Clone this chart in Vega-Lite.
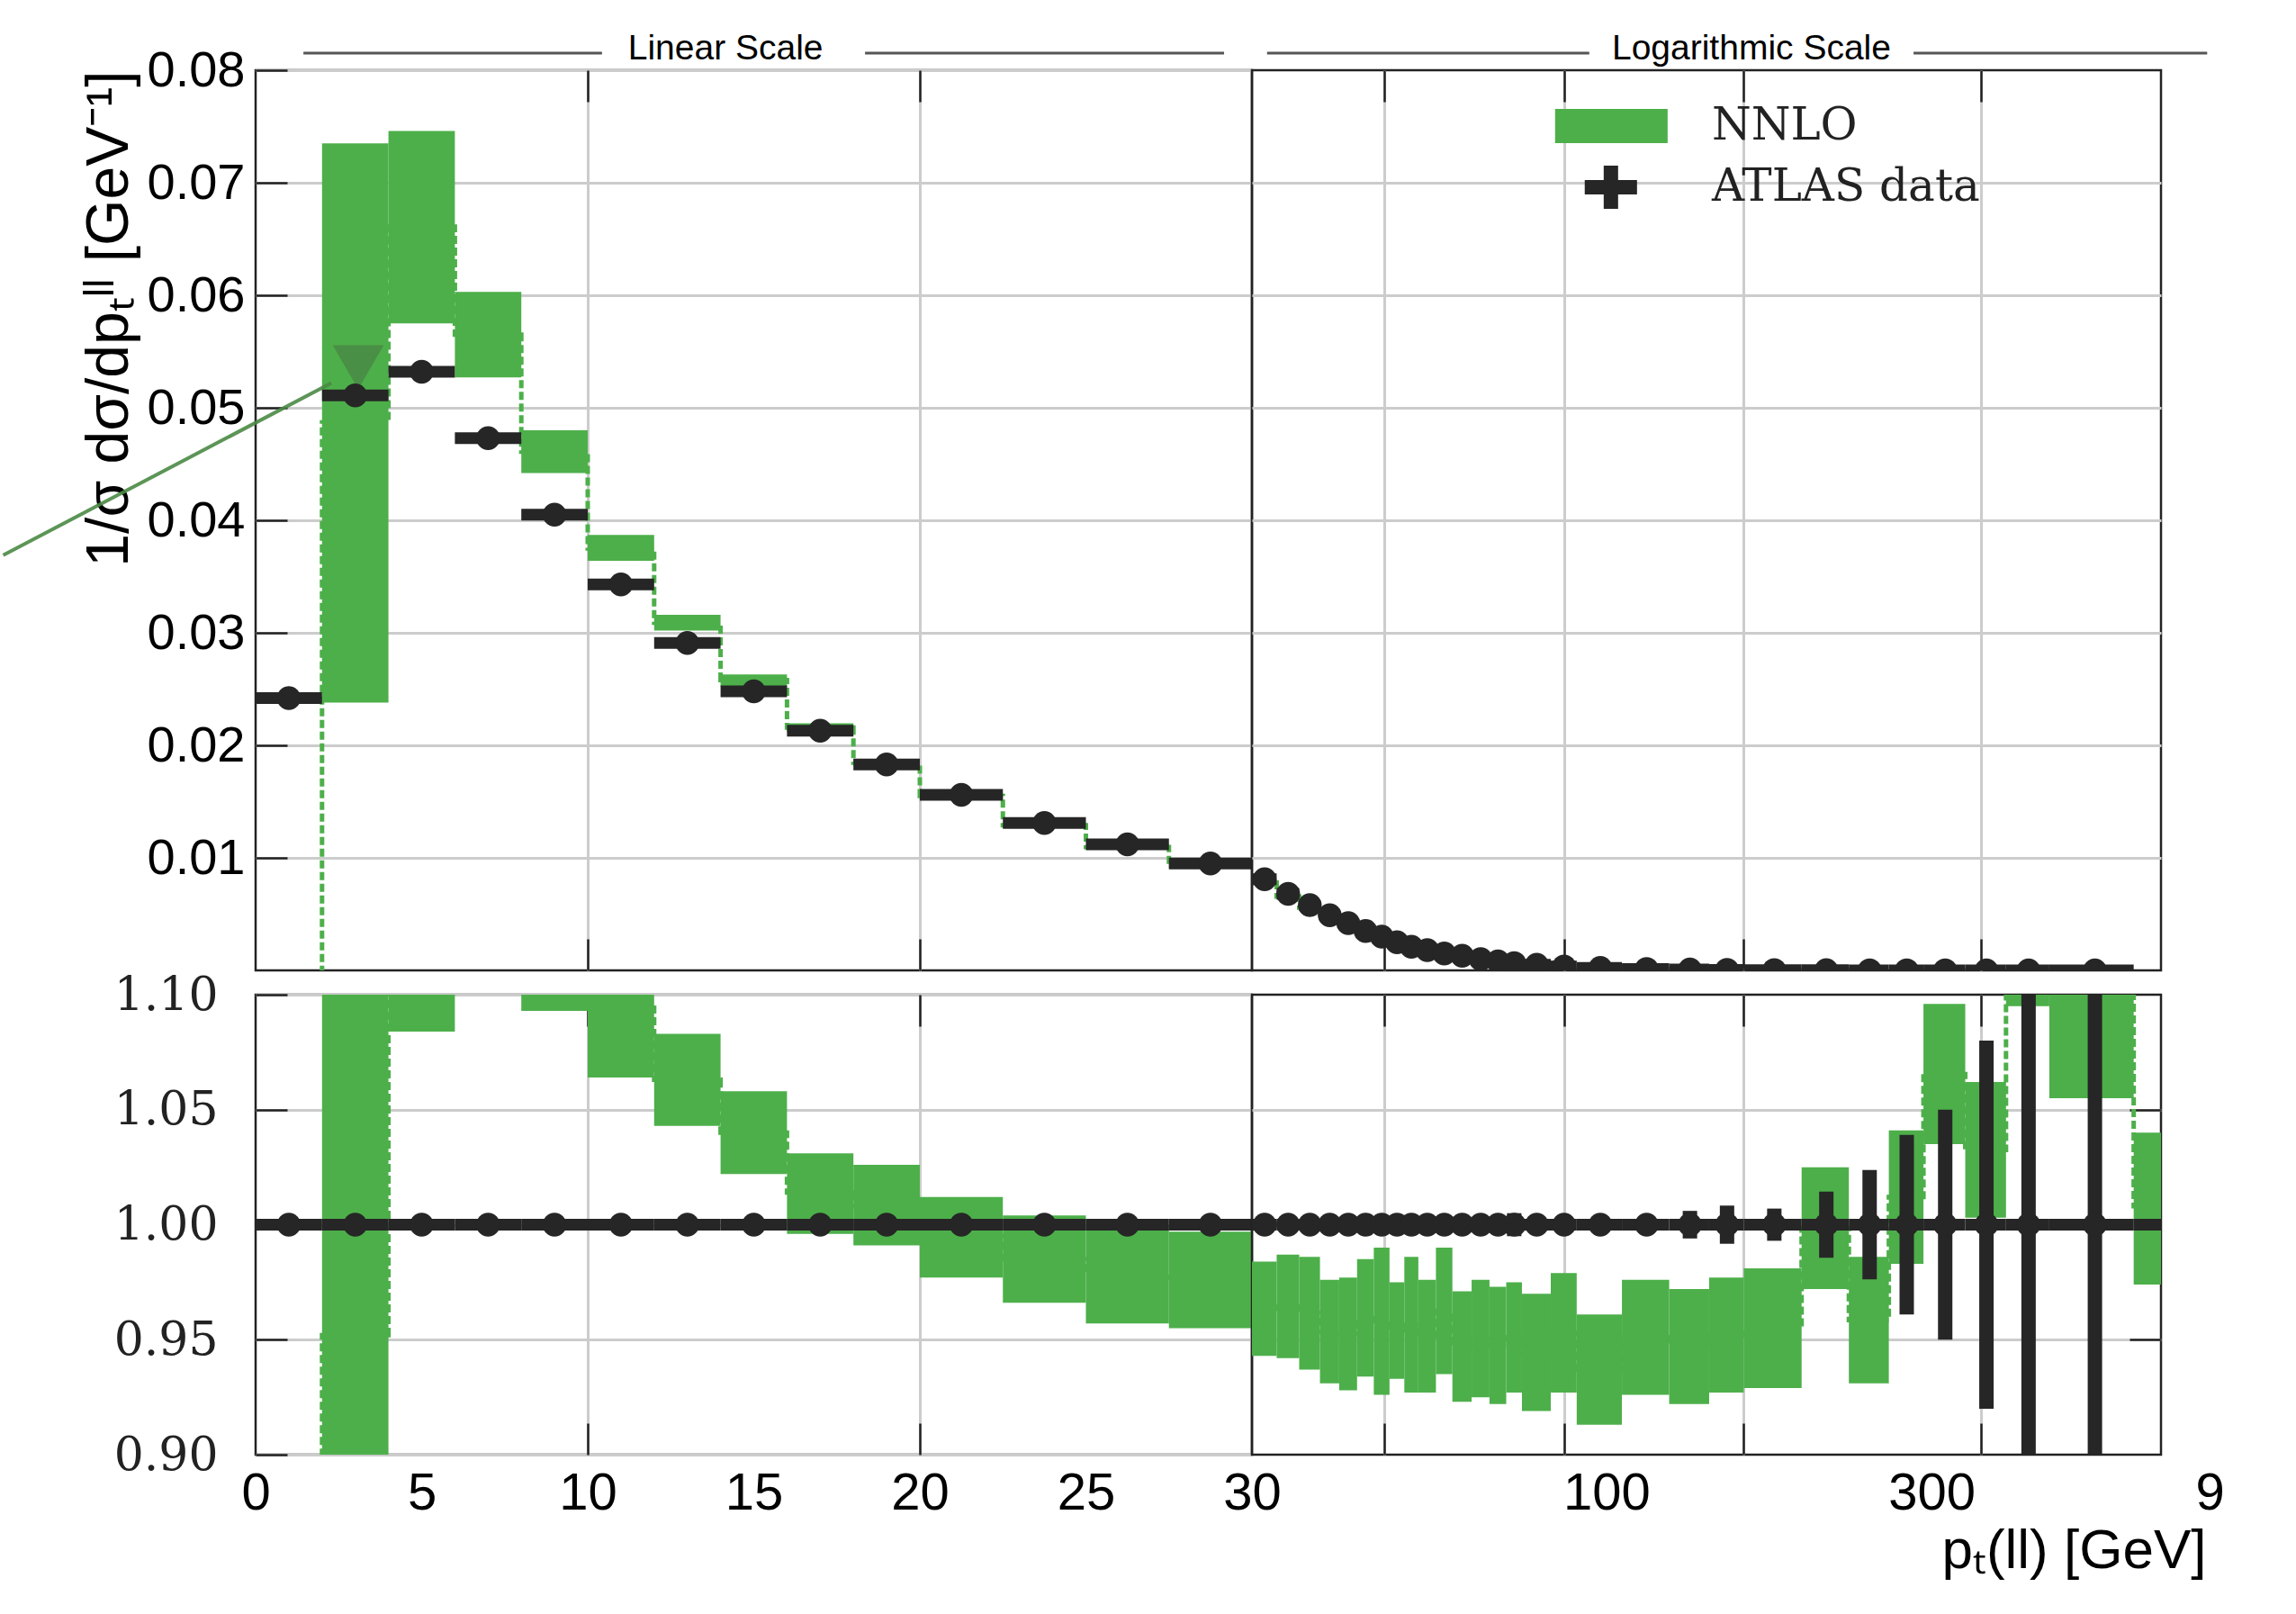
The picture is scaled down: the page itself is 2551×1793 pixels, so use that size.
{
  "$schema": "https://vega.github.io/schema/vega-lite/v6.json",
  "background": "white",
  "padding": {"left": 0, "top": 33, "right": 10, "bottom": 10},
  "config": {
    "font": "Liberation Sans",
    "view": {"stroke": "#222222", "strokeWidth": 2.5},
    "axis": {"domain": false, "gridColor": "#cccccc", "gridWidth": 3, "tickColor": "#222222", "tickWidth": 2.5, "labelFont": "Liberation Sans", "titleFont": "Liberation Sans", "titleFontWeight": "normal", "labelColor": "#000000", "titleColor": "#000000"}
  },
  "datasets": {
    "lin": [
      {"lo": 0, "hi": 2, "c": 1, "d": 0.0242, "tlo": null, "thi": null, "tmid": -0.01, "rlo": null, "rhi": null, "rmid": -0.4, "elo": 0.997, "ehi": 1.003},
      {"lo": 2, "hi": 4, "c": 3, "d": 0.0511, "tlo": 0.0238, "thi": 0.0735, "tmid": 0.0487, "rlo": 0.466, "rhi": 1.438, "rmid": 0.952, "elo": 0.997, "ehi": 1.003},
      {"lo": 4, "hi": 6, "c": 5, "d": 0.0532, "tlo": 0.0575, "thi": 0.0746, "tmid": 0.0661, "rlo": 1.084, "rhi": 1.402, "rmid": 1.243, "elo": 0.997, "ehi": 1.003},
      {"lo": 6, "hi": 8, "c": 7, "d": 0.0473, "tlo": 0.0527, "thi": 0.0603, "tmid": 0.0565, "rlo": 1.114, "rhi": 1.275, "rmid": 1.195, "elo": 0.997, "ehi": 1.003},
      {"lo": 8, "hi": 10, "c": 9, "d": 0.0405, "tlo": 0.0442, "thi": 0.048, "tmid": 0.0461, "rlo": 1.093, "rhi": 1.185, "rmid": 1.139, "elo": 0.997, "ehi": 1.003},
      {"lo": 10, "hi": 12, "c": 11, "d": 0.0343, "tlo": 0.0364, "thi": 0.0387, "tmid": 0.0375, "rlo": 1.064, "rhi": 1.128, "rmid": 1.096, "elo": 0.997, "ehi": 1.003},
      {"lo": 12, "hi": 14, "c": 13, "d": 0.0291, "tlo": 0.0302, "thi": 0.0316, "tmid": 0.0309, "rlo": 1.043, "rhi": 1.083, "rmid": 1.063, "elo": 0.997, "ehi": 1.003},
      {"lo": 14, "hi": 16, "c": 15, "d": 0.0248, "tlo": 0.0252, "thi": 0.0263, "tmid": 0.0258, "rlo": 1.022, "rhi": 1.058, "rmid": 1.04, "elo": 0.997, "ehi": 1.003},
      {"lo": 16, "hi": 18, "c": 17, "d": 0.0213, "tlo": 0.02121, "thi": 0.02196, "tmid": 0.02159, "rlo": 0.996, "rhi": 1.031, "rmid": 1.014, "elo": 0.997, "ehi": 1.003},
      {"lo": 18, "hi": 20, "c": 19, "d": 0.0183, "tlo": 0.01814, "thi": 0.01878, "tmid": 0.01846, "rlo": 0.991, "rhi": 1.026, "rmid": 1.008, "elo": 0.997, "ehi": 1.003},
      {"lo": 20, "hi": 22.5, "c": 21.25, "d": 0.0156, "tlo": 0.01524, "thi": 0.01579, "tmid": 0.01551, "rlo": 0.977, "rhi": 1.012, "rmid": 0.995, "elo": 0.997, "ehi": 1.003},
      {"lo": 22.5, "hi": 25, "c": 23.75, "d": 0.0131, "tlo": 0.01265, "thi": 0.01315, "tmid": 0.0129, "rlo": 0.966, "rhi": 1.004, "rmid": 0.985, "elo": 0.997, "ehi": 1.003},
      {"lo": 25, "hi": 27.5, "c": 26.25, "d": 0.0112, "tlo": 0.01072, "thi": 0.0112, "tmid": 0.01096, "rlo": 0.957, "rhi": 1.0, "rmid": 0.979, "elo": 0.997, "ehi": 1.003},
      {"lo": 27.5, "hi": 30, "c": 28.75, "d": 0.0095, "tlo": 0.00907, "thi": 0.00947, "tmid": 0.00927, "rlo": 0.955, "rhi": 0.997, "rmid": 0.976, "elo": 0.997, "ehi": 1.003}
    ],
    "log": [
      {"lo": 30, "hi": 33, "c": 31.5, "d": 0.0081, "tlo": 0.00764, "thi": 0.00797, "tmid": 0.0078, "rlo": 0.943, "rhi": 0.984, "rmid": 0.9635, "elo": 0.997, "ehi": 1.003},
      {"lo": 33, "hi": 36, "c": 34.5, "d": 0.0068, "tlo": 0.00641, "thi": 0.00671, "tmid": 0.00656, "rlo": 0.942, "rhi": 0.987, "rmid": 0.9645, "elo": 0.997, "ehi": 1.003},
      {"lo": 36, "hi": 39, "c": 37.5, "d": 0.0058, "tlo": 0.00544, "thi": 0.00572, "tmid": 0.00558, "rlo": 0.937, "rhi": 0.986, "rmid": 0.9615, "elo": 0.997, "ehi": 1.003},
      {"lo": 39, "hi": 42, "c": 40.5, "d": 0.0049, "tlo": 0.00456, "thi": 0.00478, "tmid": 0.00467, "rlo": 0.931, "rhi": 0.976, "rmid": 0.9535, "elo": 0.997, "ehi": 1.003},
      {"lo": 42, "hi": 45, "c": 43.5, "d": 0.0042, "tlo": 0.0039, "thi": 0.0041, "tmid": 0.004, "rlo": 0.928, "rhi": 0.977, "rmid": 0.9525, "elo": 0.997, "ehi": 1.003},
      {"lo": 45, "hi": 48, "c": 46.5, "d": 0.0035, "tlo": 0.00327, "thi": 0.00345, "tmid": 0.00336, "rlo": 0.934, "rhi": 0.985, "rmid": 0.9595, "elo": 0.997, "ehi": 1.003},
      {"lo": 48, "hi": 51, "c": 49.5, "d": 0.003, "tlo": 0.00278, "thi": 0.00297, "tmid": 0.00287, "rlo": 0.926, "rhi": 0.99, "rmid": 0.958, "elo": 0.997, "ehi": 1.003},
      {"lo": 51, "hi": 54, "c": 52.5, "d": 0.0025, "tlo": 0.00233, "thi": 0.00244, "tmid": 0.00239, "rlo": 0.933, "rhi": 0.975, "rmid": 0.954, "elo": 0.997, "ehi": 1.003},
      {"lo": 54, "hi": 57, "c": 55.5, "d": 0.0021, "tlo": 0.00195, "thi": 0.00207, "tmid": 0.00201, "rlo": 0.927, "rhi": 0.986, "rmid": 0.9565, "elo": 0.997, "ehi": 1.003},
      {"lo": 57, "hi": 61, "c": 59, "d": 0.0018, "tlo": 0.00167, "thi": 0.00176, "tmid": 0.00171, "rlo": 0.927, "rhi": 0.976, "rmid": 0.9515, "elo": 0.997, "ehi": 1.003},
      {"lo": 61, "hi": 65, "c": 63, "d": 0.0015, "tlo": 0.0014, "thi": 0.00149, "tmid": 0.00144, "rlo": 0.935, "rhi": 0.99, "rmid": 0.9625, "elo": 0.997, "ehi": 1.003},
      {"lo": 65, "hi": 70, "c": 67.5, "d": 0.0013, "tlo": 0.0012, "thi": 0.00126, "tmid": 0.00123, "rlo": 0.923, "rhi": 0.971, "rmid": 0.947, "elo": 0.997, "ehi": 1.003},
      {"lo": 70, "hi": 75, "c": 72.5, "d": 0.001, "tlo": 0.000925, "thi": 0.000976, "tmid": 0.00095, "rlo": 0.925, "rhi": 0.976, "rmid": 0.9505, "elo": 0.997, "ehi": 1.003},
      {"lo": 75, "hi": 80, "c": 77.5, "d": 0.0008, "tlo": 0.000738, "thi": 0.000778, "tmid": 0.000758, "rlo": 0.922, "rhi": 0.973, "rmid": 0.9475, "elo": 0.997, "ehi": 1.003},
      {"lo": 80, "hi": 85, "c": 82.5, "d": 0.00065, "tlo": 0.000603, "thi": 0.000634, "tmid": 0.000618, "rlo": 0.927, "rhi": 0.975, "rmid": 0.951, "elo": 0.995, "ehi": 1.005},
      {"lo": 85, "hi": 95, "c": 90, "d": 0.0005, "tlo": 0.00046, "thi": 0.000485, "tmid": 0.000472, "rlo": 0.919, "rhi": 0.97, "rmid": 0.9445, "elo": 0.997, "ehi": 1.003},
      {"lo": 95, "hi": 105, "c": 100, "d": 0.00035, "tlo": 0.000324, "thi": 0.000343, "tmid": 0.000333, "rlo": 0.927, "rhi": 0.979, "rmid": 0.953, "elo": 0.997, "ehi": 1.003},
      {"lo": 105, "hi": 125, "c": 115, "d": 0.00022, "tlo": 0.000201, "thi": 0.000211, "tmid": 0.000206, "rlo": 0.913, "rhi": 0.961, "rmid": 0.937, "elo": 0.996, "ehi": 1.004},
      {"lo": 125, "hi": 150, "c": 137.5, "d": 0.00013, "tlo": 0.00012, "thi": 0.000127, "tmid": 0.000124, "rlo": 0.926, "rhi": 0.976, "rmid": 0.951, "elo": 0.996, "ehi": 1.004},
      {"lo": 150, "hi": 175, "c": 162.5, "d": 0.00008, "tlo": 0.0000738, "thi": 0.0000778, "tmid": 0.0000758, "rlo": 0.922, "rhi": 0.972, "rmid": 0.947, "elo": 0.994, "ehi": 1.006},
      {"lo": 175, "hi": 200, "c": 187.5, "d": 0.00005, "tlo": 0.0000464, "thi": 0.0000489, "tmid": 0.0000476, "rlo": 0.927, "rhi": 0.977, "rmid": 0.952, "elo": 0.9917, "ehi": 1.0083},
      {"lo": 200, "hi": 250, "c": 225, "d": 0.00003, "tlo": 0.0000279, "thi": 0.0000294, "tmid": 0.0000286, "rlo": 0.929, "rhi": 0.981, "rmid": 0.955, "elo": 0.993, "ehi": 1.007},
      {"lo": 250, "hi": 300, "c": 275, "d": 0.000015, "tlo": 0.0000146, "thi": 0.0000154, "tmid": 0.000015, "rlo": 0.972, "rhi": 1.025, "rmid": 0.9985, "elo": 0.9856, "ehi": 1.0144},
      {"lo": 300, "hi": 350, "c": 325, "d": 0.000008, "tlo": 0.0000074, "thi": 0.0000079, "tmid": 0.0000077, "rlo": 0.931, "rhi": 0.986, "rmid": 0.9585, "elo": 0.9762, "ehi": 1.0238},
      {"lo": 350, "hi": 400, "c": 375, "d": 0.000005, "tlo": 0.0000049, "thi": 0.0000052, "tmid": 0.000005, "rlo": 0.983, "rhi": 1.041, "rmid": 1.012, "elo": 0.961, "ehi": 1.039},
      {"lo": 400, "hi": 470, "c": 435, "d": 0.000003, "tlo": 0.0000031, "thi": 0.0000033, "tmid": 0.0000032, "rlo": 1.035, "rhi": 1.096, "rmid": 1.0655, "elo": 0.95, "ehi": 1.05},
      {"lo": 470, "hi": 550, "c": 510, "d": 0.0000015, "tlo": 0.0000015, "thi": 0.0000016, "tmid": 0.0000015, "rlo": 1.003, "rhi": 1.062, "rmid": 1.0325, "elo": 0.92, "ehi": 1.08},
      {"lo": 550, "hi": 650, "c": 600, "d": 0.0000008, "tlo": 0.0000009, "thi": 0.0000009, "tmid": 0.0000009, "rlo": 1.095, "rhi": 1.16, "rmid": 1.1275, "elo": 0.85, "ehi": 1.15},
      {"lo": 650, "hi": 900, "c": 775, "d": 0.0000003, "tlo": 0.0000003, "thi": 0.0000004, "tmid": 0.0000003, "rlo": 1.055, "rhi": 1.2, "rmid": 1.1275, "elo": 0.75, "ehi": 1.25},
      {"lo": 900, "hi": 1000, "c": 950, "d": null, "tlo": null, "thi": null, "tmid": null, "rlo": 0.974, "rhi": 1.04, "rmid": 1.007, "elo": null, "ehi": null}
    ]
  },
  "columns": 2,
  "spacing": {"row": 27, "column": 0},
  "bounds": "flush",
  "concat": [
    {
      "width": 1107,
      "height": 1000,
      "resolve": {"axis": {"x": "independent"}},
      "layer": [
        {
          "data": {"name": "lin"},
          "mark": {"type": "rect", "color": "#4daf4a", "clip": true},
          "encoding": {
            "x": {"field": "lo", "type": "quantitative", "scale": {"domain": [0, 30], "nice": false, "zero": false},
                  "axis": {"orient": "bottom", "values": [10, 20], "labels": false, "tickSize": -35, "grid": true, "title": null}},
            "x2": {"field": "hi"},
            "y": {"field": "tlo", "type": "quantitative", "scale": {"domain": [0, 0.08], "nice": false, "zero": false},
                  "axis": {"orient": "left", "values": [0.01, 0.02, 0.03, 0.04, 0.05, 0.06, 0.07, 0.08], "format": ".2f", "labelFontSize": 56, "labelPadding": 47, "tickSize": -35, "grid": true,
                           "title": "1/σ dσ/dpₜˡˡ [GeV⁻¹]", "titleFontSize": 66, "titleAnchor": "end", "titlePadding": 8}},
            "y2": {"field": "thi"}
          }
        },
        {
          "data": {"name": "lin"},
          "mark": {"type": "line", "interpolate": "step-after", "color": "#4daf4a", "strokeWidth": 5, "strokeDash": [9, 4], "clip": true},
          "encoding": {
            "x": {"field": "lo", "type": "quantitative", "axis": {"orient": "top", "values": [10, 20], "labels": false, "tickSize": -35, "grid": false, "title": null}},
            "y": {"field": "tmid", "type": "quantitative"}
          }
        },
        {
          "data": {"values": [{}]},
          "mark": {"type": "rule", "color": "#4a8a45", "strokeWidth": 4, "opacity": 0.9},
          "encoding": {
            "x": {"datum": -7.6, "type": "quantitative", "axis": null},
            "x2": {"datum": 2.28},
            "y": {"datum": 0.0369, "type": "quantitative"},
            "y2": {"datum": 0.0522}
          }
        },
        {
          "data": {"values": [{}]},
          "mark": {"type": "point", "shape": "triangle-down", "filled": true, "size": 3200, "color": "#4a8a45", "opacity": 0.85},
          "encoding": {
            "x": {"datum": 3.09, "type": "quantitative", "axis": null},
            "y": {"datum": 0.0536, "type": "quantitative"}
          }
        },
        {
          "data": {"name": "lin"},
          "mark": {"type": "rule", "color": "#262626", "strokeWidth": 13, "clip": true},
          "encoding": {
            "x": {"field": "lo", "type": "quantitative", "axis": null},
            "x2": {"field": "hi"},
            "y": {"field": "d", "type": "quantitative"}
          }
        },
        {
          "data": {"name": "lin"},
          "mark": {"type": "circle", "size": 700, "color": "#262626", "opacity": 1, "clip": true},
          "encoding": {
            "x": {"field": "c", "type": "quantitative", "axis": null},
            "y": {"field": "d", "type": "quantitative"}
          }
        },
        {
          "data": {"values": [{}]},
          "mark": {"type": "rule", "color": "#555555", "strokeWidth": 3},
          "encoding": {
            "x": {"datum": 1.44, "type": "quantitative", "axis": null},
            "x2": {"datum": 10.43},
            "y": {"datum": 0.08152, "type": "quantitative"}
          }
        },
        {
          "data": {"values": [{}]},
          "mark": {"type": "rule", "color": "#555555", "strokeWidth": 3},
          "encoding": {
            "x": {"datum": 18.35, "type": "quantitative", "axis": null},
            "x2": {"datum": 29.16},
            "y": {"datum": 0.08152, "type": "quantitative"}
          }
        },
        {
          "data": {"values": [{"t": "Linear Scale"}]},
          "mark": {"type": "text", "font": "Liberation Sans", "fontSize": 39, "color": "#000000", "align": "center", "baseline": "middle"},
          "encoding": {
            "text": {"field": "t"},
            "x": {"datum": 14.15, "type": "quantitative", "axis": null},
            "y": {"datum": 0.08194, "type": "quantitative"}
          }
        }
      ]
    },
    {
      "width": 1010,
      "height": 1000,
      "resolve": {"axis": {"x": "independent"}},
      "layer": [
        {
          "data": {"name": "log"},
          "mark": {"type": "rect", "color": "#4daf4a", "clip": true},
          "encoding": {
            "x": {"field": "lo", "type": "quantitative", "scale": {"type": "log", "domain": [30, 1000], "nice": false},
                  "axis": {"orient": "bottom", "values": [50, 100, 200, 500], "labels": false, "tickSize": -35, "grid": true, "title": null}},
            "x2": {"field": "hi"},
            "y": {"field": "tlo", "type": "quantitative", "scale": {"domain": [0, 0.08], "nice": false, "zero": false},
                  "axis": {"orient": "left", "values": [0.01, 0.02, 0.03, 0.04, 0.05, 0.06, 0.07], "labels": false, "ticks": false, "grid": true, "title": null}},
            "y2": {"field": "thi"}
          }
        },
        {
          "data": {"name": "log"},
          "mark": {"type": "line", "interpolate": "step-after", "color": "#4daf4a", "strokeWidth": 5, "strokeDash": [9, 4], "clip": true},
          "encoding": {
            "x": {"field": "lo", "type": "quantitative", "axis": {"orient": "top", "values": [50, 100, 200, 500], "labels": false, "tickSize": -35, "grid": false, "title": null}},
            "y": {"field": "tmid", "type": "quantitative"}
          }
        },
        {
          "data": {"name": "log"},
          "mark": {"type": "rule", "color": "#262626", "strokeWidth": 13, "clip": true},
          "encoding": {
            "x": {"field": "lo", "type": "quantitative", "axis": null},
            "x2": {"field": "hi"},
            "y": {"field": "d", "type": "quantitative"}
          }
        },
        {
          "data": {"name": "log"},
          "mark": {"type": "circle", "size": 700, "color": "#262626", "opacity": 1, "clip": true},
          "encoding": {
            "x": {"field": "c", "type": "quantitative", "axis": null},
            "y": {"field": "d", "type": "quantitative"}
          }
        },
        {
          "data": {"values": [{}]},
          "mark": {"type": "rect", "color": "#4daf4a"},
          "encoding": {
            "x": {"datum": 96.6, "type": "quantitative", "axis": null},
            "x2": {"datum": 149.1},
            "y": {"datum": 0.07656, "type": "quantitative"},
            "y2": {"datum": 0.07352}
          }
        },
        {
          "data": {"values": [{}]},
          "mark": {"type": "rule", "color": "#262626", "strokeWidth": 16},
          "encoding": {
            "x": {"datum": 108.3, "type": "quantitative", "axis": null},
            "x2": {"datum": 132.5},
            "y": {"datum": 0.0696, "type": "quantitative"}
          }
        },
        {
          "data": {"values": [{}]},
          "mark": {"type": "rule", "color": "#262626", "strokeWidth": 16},
          "encoding": {
            "x": {"datum": 119.8, "type": "quantitative", "axis": null},
            "y": {"datum": 0.07152, "type": "quantitative"},
            "y2": {"datum": 0.06768}
          }
        },
        {
          "data": {"values": [{"t": "NNLO", "y": 0.07504}, {"t": "ATLAS data", "y": 0.0696}]},
          "mark": {"type": "text", "font": "DejaVu Serif", "fontSize": 50, "color": "#222222", "align": "left", "baseline": "middle"},
          "encoding": {
            "text": {"field": "t"},
            "x": {"datum": 176.8, "type": "quantitative", "axis": null},
            "y": {"field": "y", "type": "quantitative"}
          }
        },
        {
          "data": {"values": [{}]},
          "mark": {"type": "rule", "color": "#555555", "strokeWidth": 3},
          "encoding": {
            "x": {"datum": 31.8, "type": "quantitative", "axis": null},
            "x2": {"datum": 110.2},
            "y": {"datum": 0.08152, "type": "quantitative"}
          }
        },
        {
          "data": {"values": [{}]},
          "mark": {"type": "rule", "color": "#555555", "strokeWidth": 3},
          "encoding": {
            "x": {"datum": 385, "type": "quantitative", "axis": null},
            "x2": {"datum": 1195},
            "y": {"datum": 0.08152, "type": "quantitative"}
          }
        },
        {
          "data": {"values": [{"t": "Logarithmic Scale"}]},
          "mark": {"type": "text", "font": "Liberation Sans", "fontSize": 39, "color": "#000000", "align": "center", "baseline": "middle"},
          "encoding": {
            "text": {"field": "t"},
            "x": {"datum": 206, "type": "quantitative", "axis": null},
            "y": {"datum": 0.08194, "type": "quantitative"}
          }
        }
      ]
    },
    {
      "width": 1107,
      "height": 511,
      "resolve": {"axis": {"x": "independent"}},
      "layer": [
        {
          "data": {"name": "lin"},
          "mark": {"type": "rect", "color": "#4daf4a", "clip": true},
          "encoding": {
            "x": {"field": "lo", "type": "quantitative", "scale": {"domain": [0, 30], "nice": false, "zero": false},
                  "axis": {"orient": "bottom", "values": [0, 5, 10, 15, 20, 25, 30], "labelFontSize": 58, "labelPadding": 49, "labelFlush": false, "labelOverlap": false, "tickSize": -35, "grid": true,
                           "tickOpacity": {"condition": {"test": "datum.value == 10 || datum.value == 20", "value": 1}, "value": 0},
                           "gridOpacity": {"condition": {"test": "datum.value == 10 || datum.value == 20", "value": 1}, "value": 0},
                           "title": null}},
            "x2": {"field": "hi"},
            "y": {"field": "rlo", "type": "quantitative", "scale": {"domain": [0.9, 1.1], "nice": false, "zero": false},
                  "axis": {"orient": "left", "values": [0.9, 0.95, 1.0, 1.05, 1.1], "format": ".2f", "labelFont": "DejaVu Serif", "labelFontSize": 52, "labelColor": "#222222", "labelPadding": 77, "tickSize": -35, "grid": true, "title": null}},
            "y2": {"field": "rhi"}
          }
        },
        {
          "data": {"name": "lin"},
          "mark": {"type": "line", "interpolate": "step-after", "color": "#4daf4a", "strokeWidth": 5, "strokeDash": [9, 4], "clip": true},
          "encoding": {
            "x": {"field": "lo", "type": "quantitative", "axis": {"orient": "top", "values": [10, 20], "labels": false, "tickSize": -35, "grid": false, "title": null}},
            "y": {"field": "rmid", "type": "quantitative"}
          }
        },
        {
          "data": {"name": "lin"},
          "mark": {"type": "rule", "color": "#262626", "strokeWidth": 16, "clip": true},
          "encoding": {
            "x": {"field": "c", "type": "quantitative", "axis": null},
            "y": {"field": "elo", "type": "quantitative"},
            "y2": {"field": "ehi"}
          }
        },
        {
          "data": {"name": "lin"},
          "mark": {"type": "rule", "color": "#262626", "strokeWidth": 13, "clip": true},
          "encoding": {
            "x": {"field": "lo", "type": "quantitative", "axis": null},
            "x2": {"field": "hi"},
            "y": {"datum": 1, "type": "quantitative"}
          }
        },
        {
          "data": {"name": "lin"},
          "transform": [{"filter": "isValid(datum.d)"}],
          "mark": {"type": "circle", "size": 700, "color": "#262626", "opacity": 1, "clip": true},
          "encoding": {
            "x": {"field": "c", "type": "quantitative", "axis": null},
            "y": {"datum": 1, "type": "quantitative"}
          }
        }
      ]
    },
    {
      "width": 1010,
      "height": 511,
      "resolve": {"axis": {"x": "independent"}},
      "layer": [
        {
          "data": {"name": "log"},
          "mark": {"type": "rect", "color": "#4daf4a", "clip": true},
          "encoding": {
            "x": {"field": "lo", "type": "quantitative", "scale": {"type": "log", "domain": [30, 1000], "nice": false},
                  "axis": {"orient": "bottom", "values": [50, 100, 200, 300, 500, 1000],
                           "labelExpr": "datum.value == 100 ? '100' : (datum.value == 300 ? '300' : (datum.value == 1000 ? '9' : ''))",
                           "labelFontSize": 58, "labelPadding": 49, "labelFlush": false, "labelOverlap": false,
                           "labelOffset": {"condition": [{"test": "datum.value == 100", "value": 47}, {"test": "datum.value == 300", "value": 92}], "value": 54},
                           "tickSize": -35, "grid": true,
                           "tickOpacity": {"condition": {"test": "datum.value == 300 || datum.value == 1000", "value": 0}, "value": 1},
                           "gridOpacity": {"condition": {"test": "datum.value == 300 || datum.value == 1000", "value": 0}, "value": 1},
                           "title": "pₜ(ll) [GeV]", "titleFontSize": 62, "titleAlign": "right", "titleX": 1060, "titleY": 125, "titleBaseline": "alphabetic"}},
            "x2": {"field": "hi"},
            "y": {"field": "rlo", "type": "quantitative", "scale": {"domain": [0.9, 1.1], "nice": false, "zero": false},
                  "axis": {"orient": "right", "values": [0.95, 1.05], "labels": false, "tickSize": -35, "grid": true, "title": null}},
            "y2": {"field": "rhi"}
          }
        },
        {
          "data": {"name": "log"},
          "mark": {"type": "line", "interpolate": "step-after", "color": "#4daf4a", "strokeWidth": 5, "strokeDash": [9, 4], "clip": true},
          "encoding": {
            "x": {"field": "lo", "type": "quantitative", "axis": {"orient": "top", "values": [50, 100, 200, 500], "labels": false, "tickSize": -35, "grid": false, "title": null}},
            "y": {"field": "rmid", "type": "quantitative"}
          }
        },
        {
          "data": {"name": "log"},
          "mark": {"type": "rule", "color": "#262626", "strokeWidth": 16, "clip": true},
          "encoding": {
            "x": {"field": "c", "type": "quantitative", "axis": null},
            "y": {"field": "elo", "type": "quantitative"},
            "y2": {"field": "ehi"}
          }
        },
        {
          "data": {"name": "log"},
          "mark": {"type": "rule", "color": "#262626", "strokeWidth": 13, "clip": true},
          "encoding": {
            "x": {"field": "lo", "type": "quantitative", "axis": null},
            "x2": {"field": "hi"},
            "y": {"datum": 1, "type": "quantitative"}
          }
        },
        {
          "data": {"name": "log"},
          "transform": [{"filter": "isValid(datum.d)"}],
          "mark": {"type": "circle", "size": 700, "color": "#262626", "opacity": 1, "clip": true},
          "encoding": {
            "x": {"field": "c", "type": "quantitative", "axis": null},
            "y": {"datum": 1, "type": "quantitative"}
          }
        }
      ]
    }
  ]
}
